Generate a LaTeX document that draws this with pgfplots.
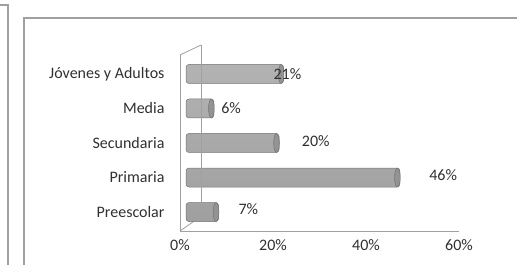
\documentclass[border=0pt]{standalone}
\usepackage{fontspec}
\setmainfont{Carlito}
\usepackage{pgfplots}
\usepackage{pgfplotstable}
\pgfplotsset{compat=1.18}
\definecolor{frame}{HTML}{A0A0A0}
\definecolor{txt}{HTML}{303030}
\pgfplotstableread{
y v
0 7
1 46
2 20
3 6
4 21
}\bars
\pgfplotstableread{
x y lab
14.7 0.08 7\%
56.6 1.06 46\%
29.2 2.06 20\%
11.0 3.02 6\%
23.1 4.0 21\%
}\labs
\begin{document}
\begin{tikzpicture}[x=1pt,y=1pt]
\useasboundingbox (0,0) rectangle (517,265);
\draw[frame, line width=1.3pt] (0,260) -- (8,260) -- (8,0);
\draw[frame, line width=1.3pt] (24,0) -- (24,247) -- (517,247);
\begin{axis}[
  at={(180pt,34pt)}, anchor=south west,
  scale only axis, width=279pt, height=176pt,
  xmin=0, xmax=60, ymin=-0.55, ymax=4.55,
  axis x line*=bottom, axis y line*=left,
  axis line style={frame, line width=0.8pt},
  xtick={0,20,40,60}, ytick={0,1,2,3,4},
  yticklabels={Preescolar,Primaria,Secundaria,Media,Jóvenes y Adultos},
  xticklabel={\pgfmathprintnumber{\tick}\%},
  /pgf/number format/assume math mode=true,
  major tick length=0pt,
  tick label style={font=\fontsize{16}{18}\selectfont, text=txt},
  xticklabel style={yshift=-5pt},
  yticklabel style={xshift=-12pt},
  clip=false,
]
\draw[frame, line width=0.8pt] (axis cs:0,4.55) -- ++(21pt,10pt);
\draw[frame, line width=0.8pt] (axis cs:0,-0.55) -- ++(20pt,14pt);
\addplot[xbar, bar width=19pt, xshift=6pt, draw=gray!90!black, line width=0.5pt,
  top color=gray!60, middle color=gray!8, bottom color=gray!75, rounded corners=3pt]
  table[x=v, y=y] {\bars};
\addplot[only marks, xshift=3.5pt, mark=*, mark size=9.5pt,
  mark options={xscale=0.3, draw=gray!90!black, line width=0.5pt, fill=gray!85}]
  table[x=v, y=y] {\bars};
\draw[frame, line width=0.8pt] ([shift={(21pt,10pt)}]axis cs:0,4.55) -- ([shift={(21pt,14pt)}]axis cs:0,-0.55);
\addplot[draw=none, mark=none, nodes near coords, point meta=explicit symbolic,
  every node near coord/.style={anchor=center, font=\fontsize{16}{18}\selectfont, text=txt}]
  table[x=x, y=y, meta=lab] {\labs};
\end{axis}
\end{tikzpicture}
\end{document}
